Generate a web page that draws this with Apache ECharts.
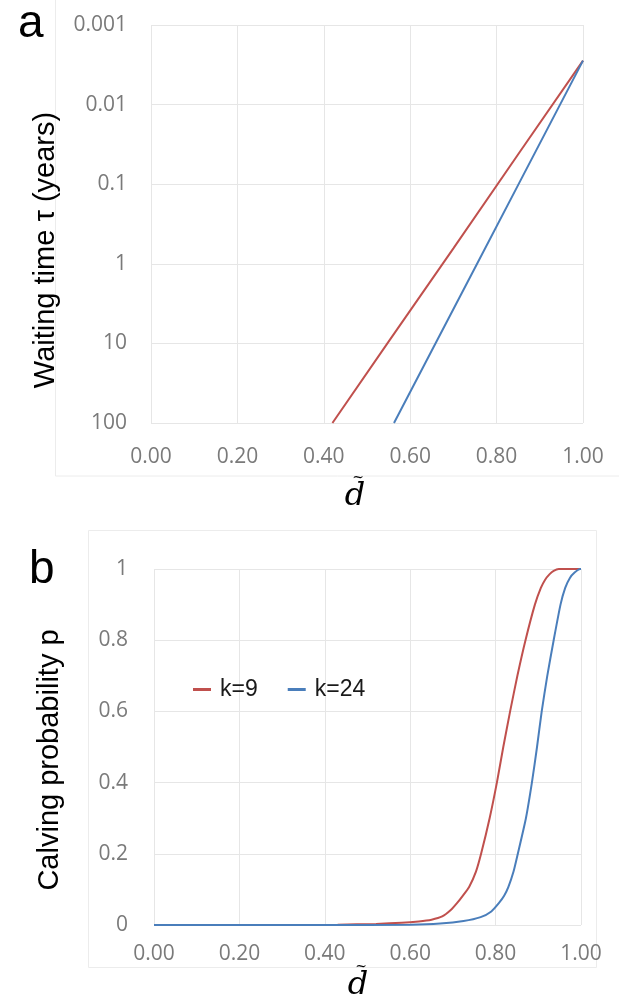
<!DOCTYPE html>
<html>
<head>
<meta charset="utf-8">
<script src="https://cdn.jsdelivr.net/npm/echarts@6/dist/echarts.min.js"></script>
<style>
  html, body { margin: 0; padding: 0; background: #fff; }
  #chart { width: 619px; height: 1001px; }
</style>
</head>
<body>
<div id="chart"></div>
<script>
// Panel a: waiting time tau (years) against normalised depth d~ (log scale, inverted)
var seriesNames = ['k=9', 'k=24'];
var tauDRed = [0.42, 0.55, 0.70, 0.85, 1.00];
var tauRed = [100, 9.5, 0.64, 0.042, 0.0028];
var tauDBlue = [0.5625, 0.65, 0.75, 0.85, 1.00];
var tauBlue = [100, 12.3, 1.12, 0.102, 0.0028];
var tauTickLabels = ['0.001', '0.01', '0.1', '1', '10', '100'];

// Panel b: calving probability p against d~
var pDRed = [0, 0.2, 0.43, 0.52, 0.58, 0.62, 0.65, 0.675, 0.695, 0.71, 0.723, 0.738, 0.754, 0.766, 0.786, 0.803, 0.818, 0.834, 0.851, 0.870, 0.892, 0.906, 0.916, 0.926, 0.936, 0.948, 1.0];
var pRed = [0, 0, 0.001, 0.003, 0.006, 0.01, 0.015, 0.024, 0.042, 0.062, 0.082, 0.107, 0.15, 0.2, 0.3, 0.4, 0.5, 0.6, 0.7, 0.8, 0.9, 0.947, 0.97, 0.985, 0.995, 1, 1];
var pDBlue = [0, 0.4, 0.6, 0.67, 0.725, 0.765, 0.79, 0.808, 0.82, 0.83, 0.842, 0.852, 0.871, 0.885, 0.897, 0.908, 0.921, 0.936, 0.952, 0.963, 0.974, 0.985, 0.998, 1.0];
var pBlue = [0, 0, 0.001, 0.004, 0.011, 0.022, 0.038, 0.062, 0.082, 0.107, 0.15, 0.2, 0.3, 0.4, 0.5, 0.6, 0.7, 0.8, 0.9, 0.947, 0.975, 0.99, 1, 1];

var xTickLabels = ['0.00', '0.20', '0.40', '0.60', '0.80', '1.00'];
var pTickLabels = ['0', '0.2', '0.4', '0.6', '0.8', '1'];

var RED = '#c0504d';
var BLUE = '#4a7ebb';
var GRID = '#e6e6e6';
var TICK = '#7a7a7a';

function pairs(xs, ys) {
  return xs.map(function (x, i) { return [x, ys[i]]; });
}

function xAxisFor(gridIndex, margin) {
  return {
    type: 'value', gridIndex: gridIndex, min: 0, max: 1, interval: 0.2,
    axisLine: { show: false }, axisTick: { show: false },
    splitLine: { show: true, lineStyle: { color: GRID, width: 1 } },
    axisLabel: {
      margin: margin, color: TICK, fontSize: 21, fontFamily: 'Open Sans',
      formatter: function (v) { return xTickLabels[Math.round(v / 0.2)]; }
    }
  };
}

// italic d with a tilde accent on top
function dTilde(cx, cy) {
  return [
    { type: 'text', x: cx, y: cy,
      style: { text: 'd', fontSize: 32, fontStyle: 'italic', fontFamily: 'DejaVu Serif',
               fill: '#000', align: 'center', verticalAlign: 'middle' } },
    { type: 'text', x: cx + 3, y: cy - 19,
      style: { text: '~', fontSize: 14, fontFamily: 'DejaVu Serif',
               fill: '#000', align: 'center', verticalAlign: 'middle' } }
  ];
}

var chart = echarts.init(document.getElementById('chart'), null, { renderer: 'canvas' });

chart.setOption({
  backgroundColor: '#ffffff',
  animation: false,
  grid: [
    { left: 151, right: 36, top: 25, height: 398 },
    { left: 154, right: 38, top: 569, height: 356 }
  ],
  xAxis: [xAxisFor(0, 24), xAxisFor(1, 19)],
  yAxis: [
    {
      type: 'log', logBase: 10, gridIndex: 0, min: 0.001, max: 100, inverse: true,
      axisLine: { show: false }, axisTick: { show: false },
      splitLine: { show: true, lineStyle: { color: GRID, width: 1 } },
      axisLabel: {
        margin: 24, color: TICK, fontSize: 21, fontFamily: 'Open Sans',
        formatter: function (v) { return tauTickLabels[Math.round(Math.log10(v)) + 3]; }
      }
    },
    {
      type: 'value', gridIndex: 1, min: 0, max: 1, interval: 0.2,
      axisLine: { show: false }, axisTick: { show: false },
      splitLine: { show: true, lineStyle: { color: GRID, width: 1 } },
      axisLabel: {
        margin: 26, color: TICK, fontSize: 21, fontFamily: 'Open Sans',
        formatter: function (v) { return pTickLabels[Math.round(v / 0.2)]; }
      }
    }
  ],
  legend: {
    data: seriesNames,
    left: 188, top: 673,
    icon: 'rect', itemWidth: 18, itemHeight: 3, itemGap: 30,
    textStyle: { color: '#1a1a1a', fontSize: 23, fontFamily: 'Liberation Sans', padding: [0, 0, 0, 4] }
  },
  series: [
    {
      name: seriesNames[0], type: 'line', xAxisIndex: 0, yAxisIndex: 0,
      data: pairs(tauDRed, tauRed), showSymbol: false,
      lineStyle: { color: RED, width: 2 }, itemStyle: { color: RED }
    },
    {
      name: seriesNames[1], type: 'line', xAxisIndex: 0, yAxisIndex: 0,
      data: pairs(tauDBlue, tauBlue), showSymbol: false,
      lineStyle: { color: BLUE, width: 2 }, itemStyle: { color: BLUE }
    },
    {
      name: seriesNames[0], type: 'line', xAxisIndex: 1, yAxisIndex: 1,
      data: pairs(pDRed, pRed), showSymbol: false, smooth: 0.2,
      lineStyle: { color: RED, width: 2 }, itemStyle: { color: RED }
    },
    {
      name: seriesNames[1], type: 'line', xAxisIndex: 1, yAxisIndex: 1,
      data: pairs(pDBlue, pBlue), showSymbol: false, smooth: 0.2,
      lineStyle: { color: BLUE, width: 2 }, itemStyle: { color: BLUE }
    }
  ],
  graphic: [
    // faint chart-area frames
    { type: 'rect', silent: true, z: -1, shape: { x: 55.5, y: -2, width: 580, height: 478 },
      style: { fill: null, stroke: '#ececec', lineWidth: 1 } },
    { type: 'rect', silent: true, z: -1, shape: { x: 88.5, y: 530.5, width: 508, height: 437 },
      style: { fill: null, stroke: '#ececec', lineWidth: 1 } },
    // panel letters
    { type: 'text', left: 18, top: 1,
      style: { text: 'a', fontSize: 46, fontFamily: 'Liberation Sans', fill: '#000' } },
    { type: 'text', left: 29, top: 547,
      style: { text: 'b', fontSize: 46, fontFamily: 'Liberation Sans', fill: '#000' } },
    // y-axis titles
    { type: 'text', x: 46, y: 250, rotation: Math.PI / 2,
      style: { text: 'Waiting time \u03c4 (years)', fontSize: 29, fontFamily: 'Liberation Sans',
               fill: '#000', align: 'center', verticalAlign: 'middle' } },
    { type: 'text', x: 50, y: 760, rotation: Math.PI / 2,
      style: { text: 'Calving probability p', fontSize: 29, fontFamily: 'Liberation Sans',
               fill: '#000', align: 'center', verticalAlign: 'middle' } }
  ].concat(dTilde(355, 497), dTilde(358, 986))
});
</script>
</body>
</html>
